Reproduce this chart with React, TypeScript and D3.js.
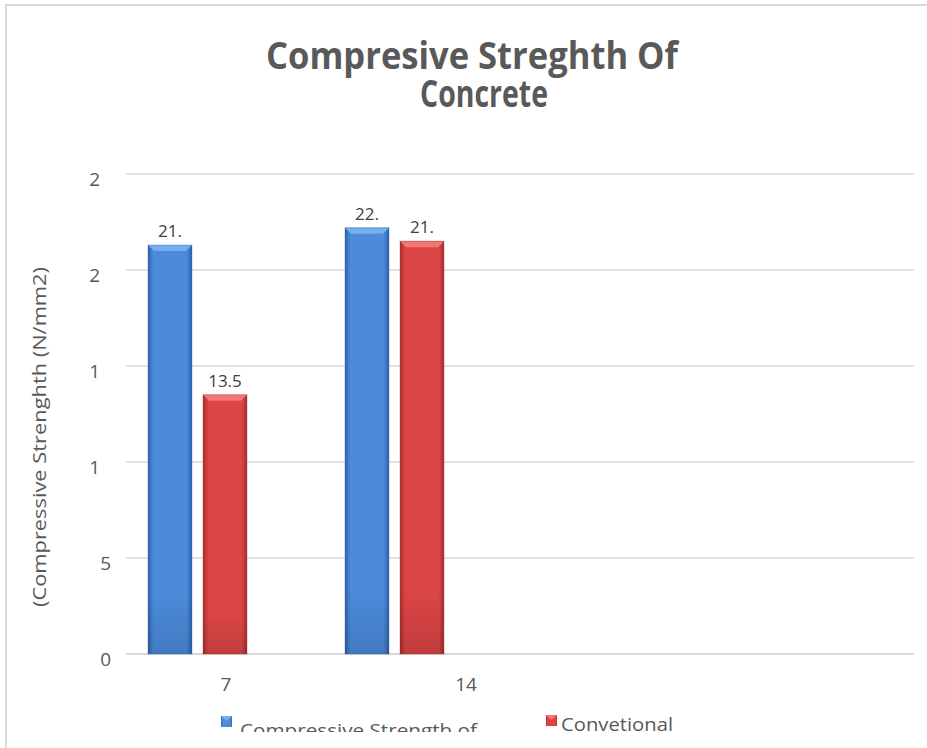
import React from "react";
import * as d3 from "d3";

const categories = ["7", "14", "", " "];
const seriesNames = ["Compressive Strength of", "Convetional"];
const seriesA = [21.3, 22.2];
const seriesB = [13.5, 21.5];
const labelsA = ["21.", "22."];
const labelsB = ["13.5", "21."];
const yTickValues = [0, 5, 10, 15, 20, 25];
const yTickLabels = ["0", "5", "1", "1", "2", "2"];
const xTickLabels = ["7", "14"];

const W = 927;
const H = 748;
const plotLeft = 126;
const plotRight = 914;
const plotTop = 174;
const plotBottom = 654;

const colors = [
  { edge: "#2C62AA", mid: "#4B8BDA", top: "#74AEEE", dark: "#2A5A98" },
  { edge: "#A82E2E", mid: "#DB4545", top: "#F27777", dark: "#9A2828" },
];

export default function App() {
  const y = d3.scaleLinear().domain([0, 25]).range([plotBottom, plotTop]);
  const x = d3.scaleBand().domain(categories).range([plotLeft, plotRight]);
  const inner = d3
    .scaleBand()
    .domain(seriesNames)
    .range([22, 121])
    .paddingInner(0.2)
    .paddingOuter(0);
  const xLabel = d3.scalePoint().domain(xTickLabels).range([226, 466]);

  const series = [
    { name: seriesNames[0], values: seriesA, labels: labelsA },
    { name: seriesNames[1], values: seriesB, labels: labelsB },
  ];
  const bw = inner.bandwidth();
  const font = "'Open Sans', 'Liberation Sans', sans-serif";
  const digitW = 11;
  const tickRight = 111;

  return (
    <div style={{ position: "fixed", left: 0, top: 0, width: W, height: H, background: "#fff" }}>
      <svg width={W} height={H} style={{ display: "block" }}>
        <defs>
          {colors.map((c, i) => (
            <linearGradient key={i} id={`g${i}`} x1="0" x2="1" y1="0" y2="0">
              <stop offset="0" stopColor={c.edge} />
              <stop offset="0.12" stopColor={c.mid} />
              <stop offset="0.88" stopColor={c.mid} />
              <stop offset="1" stopColor={c.edge} />
            </linearGradient>
          ))}
          {colors.map((c, i) => (
            <linearGradient key={i} id={`v${i}`} x1="0" x2="0" y1="0" y2="1">
              <stop offset="0" stopColor="#fff" stopOpacity="0" />
              <stop offset="0.85" stopColor="#000" stopOpacity="0.0" />
              <stop offset="1" stopColor="#000" stopOpacity="0.12" />
            </linearGradient>
          ))}
          <clipPath id="legclip">
            <rect x={0} y={0} width={W} height={732} />
          </clipPath>
          <clipPath id="titleclip">
            <rect x={0} y={0} width={W} height={108} />
          </clipPath>
        </defs>

        {/* frame */}
        <line x1={5} x2={W} y1={5} y2={5} stroke="#d9d9d9" strokeWidth={2} />
        <line x1={6} x2={6} y1={5} y2={H} stroke="#d9d9d9" strokeWidth={2} />

        {/* title */}
        <g clipPath="url(#titleclip)">
          <g transform="translate(0,69) scale(1,1.12)">
            <text x={472} y={0} textAnchor="middle" fontFamily={font} fontWeight="bold" fontSize={33} fill="#595959" textLength={412} lengthAdjust="spacingAndGlyphs">
              Compresive Streghth Of
            </text>
          </g>
          <g transform="translate(0,107) scale(1,1.12)">
            <text x={484} y={0} textAnchor="middle" fontFamily={font} fontWeight="bold" fontSize={33} fill="#595959" textLength={128} lengthAdjust="spacingAndGlyphs">
              Concrete
            </text>
          </g>
        </g>

        {/* gridlines */}
        {yTickValues.map((v) => (
          <line key={v} x1={plotLeft} x2={plotRight} y1={y(v)} y2={y(v)} stroke="#d9d9d9" strokeWidth={v === 0 ? 2 : 1.3} />
        ))}

        {/* y tick labels (truncated leading digits, right edge of full number) */}
        {yTickValues.map((v, i) => (
          <text
            key={v}
            x={tickRight - digitW * (String(v).length - yTickLabels[i].length)}
            y={y(v) + 12}
            textAnchor="end"
            fontFamily={font}
            fontSize={19}
            fill="#595959"
          >
            {yTickLabels[i]}
          </text>
        ))}

        {/* y axis title */}
        <text
          transform={`translate(46, 437) rotate(-90)`}
          textAnchor="middle"
          fontFamily={font}
          fontSize={19}
          fill="#595959"
          textLength={340}
          lengthAdjust="spacingAndGlyphs"
        >
          (Compressive Strenghth (N/mm2)
        </text>

        {/* bars */}
        {series.map((s, si) =>
          s.values.map((v, ci) => {
            const x0 = (x(categories[ci]) as number) + (inner(s.name) as number);
            const yTop = y(v);
            const h = plotBottom - yTop;
            const c = colors[si];
            const bev = 6;
            return (
              <g key={`${si}-${ci}`}>
                <rect x={x0} y={yTop} width={bw} height={h} fill={`url(#g${si})`} />
                <rect x={x0} y={yTop} width={bw} height={h} fill={`url(#v${si})`} />
                <polygon
                  points={`${x0},${yTop} ${x0 + bw},${yTop} ${x0 + bw - bev},${yTop + bev} ${x0 + bev},${yTop + bev}`}
                  fill={c.top}
                />
                <rect x={x0} y={yTop} width={bw} height={h} fill="none" stroke={c.dark} strokeOpacity={0.35} strokeWidth={1} />
                <text x={x0 + bw / 2} y={yTop - 8} textAnchor="middle" fontFamily={font} fontSize={17} fill="#404040">
                  {s.labels[ci]}
                </text>
              </g>
            );
          })
        )}

        {/* x tick labels */}
        {xTickLabels.map((t) => (
          <text key={t} x={xLabel(t)} y={691} textAnchor="middle" fontFamily={font} fontSize={19} fill="#595959">
            {t}
          </text>
        ))}

        {/* legend */}
        <g clipPath="url(#legclip)">
          <rect x={221} y={716} width={11} height={11} fill={`url(#g0)`} />
          <polygon points="221,716 232,716 226.5,721" fill={colors[0].top} />
          <text x={240} y={737} fontFamily={font} fontSize={19} fill="#595959" textLength={237} lengthAdjust="spacingAndGlyphs">
            {seriesNames[0]}
          </text>
          <rect x={546} y={715} width={11} height={11} fill={`url(#g1)`} />
          <polygon points="546,715 557,715 551.5,720" fill={colors[1].top} />
          <text x={561} y={731} fontFamily={font} fontSize={19} fill="#595959" textLength={112} lengthAdjust="spacingAndGlyphs">
            {seriesNames[1]}
          </text>
        </g>
      </svg>
    </div>
  );
}
